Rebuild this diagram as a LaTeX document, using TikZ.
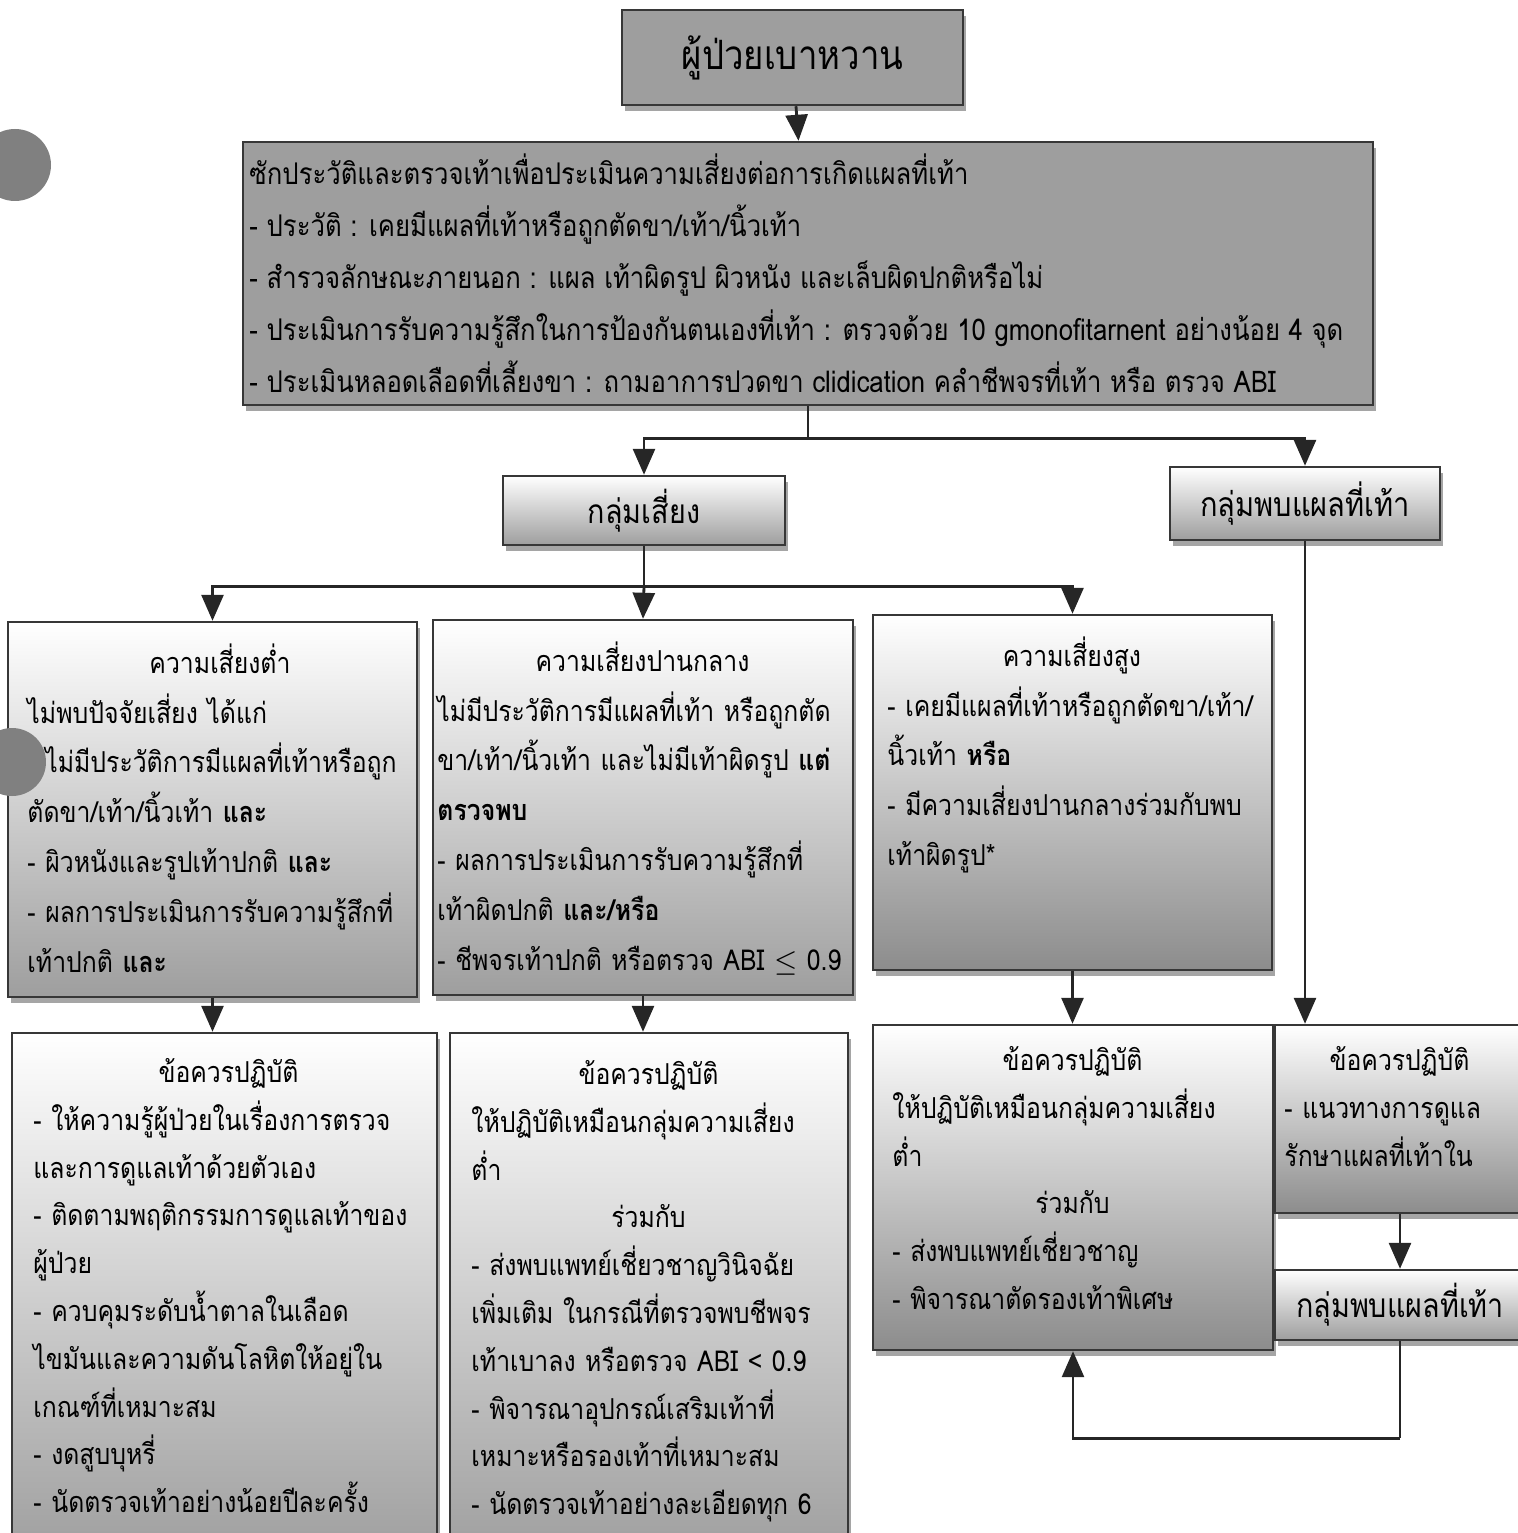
\documentclass[tikz,border=0pt]{standalone}
\usepackage{fontspec}
\usepackage{tikz}
\usetikzlibrary{arrows.meta, positioning, shadows}
\newfontfamily\thaifont[Script=Thai,FakeStretch=0.86]{Loma}
\definecolor{boxgray}{RGB}{158,158,158}
\definecolor{linegray}{RGB}{55,55,55}
\newcommand{\midline}[1]{\hfill#1\hfill\null}
\begin{document}
\begin{tikzpicture}[>={Triangle[length=2.6mm,width=2.2mm]},
          box/.style={draw=linegray,line width=0.7pt,inner sep=0pt,
                      drop shadow={shadow xshift=0.3mm,shadow yshift=-0.6mm,fill=black!70}},
          darkbox/.style={box,fill=boxgray},
          fadebox/.style={box,top color=white,bottom color=black!38},
          txt/.style={anchor=north west,inner sep=0pt,align=left,
                      font=\thaifont\fontsize{8.2}{14.2}\selectfont},
          dotxt/.style={txt,font=\thaifont\fontsize{8.2}{13.6}\selectfont},
          conn/.style={draw=black!85,line width=0.8pt}]
        \useasboundingbox (0,0) rectangle (15.17,-15.33);
        \node[darkbox,minimum width=3.41cm,minimum height=0.95cm,
              font=\thaifont\fontsize{11.5}{14}\selectfont](title) at (7.925,-0.575){ผู้ป่วยเบาหวาน};
        \node[darkbox,minimum width=11.3cm,minimum height=2.63cm](hist) at (8.08,-2.735){};
        \node[txt,font=\thaifont\fontsize{8.5}{14.8}\selectfont](histtxt) at ([xshift=0.07cm,yshift=-0.12cm]hist.north west){%
          ซักประวัติและตรวจเท้าเพื่อประเมินความเสี่ยงต่อการเกิดแผลที่เท้า\\
          -~ประวัติ : เคยมีแผลที่เท้าหรือถูกตัดขา/เท้า/นิ้วเท้า\\
          -~สำรวจลักษณะภายนอก : แผล เท้าผิดรูป ผิวหนัง และเล็บผิดปกติหรือไม่\\
          -~ประเมินการรับความรู้สึกในการป้องกันตนเองที่เท้า : ตรวจด้วย 10 gmonofitarnent อย่างน้อย 4 จุด\\
          -~ประเมินหลอดเลือดที่เลี้ยงขา : ถามอาการปวดขา clidication คลำชีพจรที่เท้า หรือ ตรวจ ABI};
        \node[fadebox,minimum width=2.82cm,minimum height=0.69cm,
              font=\thaifont\fontsize{9.5}{12}\selectfont](risk) at (6.44,-5.105){กลุ่มเสี่ยง};
        \node[fadebox,minimum width=2.7cm,minimum height=0.73cm,
              font=\thaifont\fontsize{9.6}{12}\selectfont](ulcer) at (13.05,-5.035){กลุ่มพบแผลที่เท้า};
        \node[fadebox,minimum width=4.09cm,minimum height=3.75cm](low) at (2.125,-8.095){};
        \node[fadebox,minimum width=4.2cm,minimum height=3.75cm](mid) at (6.43,-8.075){};
        \node[fadebox,minimum width=3.99cm,minimum height=3.55cm,bottom color=black!45](high) at (10.725,-7.925){};
        \node[txt,text width=3.85cm](lowtxt) at ([xshift=0.2cm,yshift=-0.22cm]low.north west){%
          \midline{ความเสี่ยงต่ำ}\\
          ไม่พบปัจจัยเสี่ยง ได้แก่\\
          -~ไม่มีประวัติการมีแผลที่เท้าหรือถูก\\
          ตัดขา/เท้า/นิ้วเท้า \textbf{และ}\\
          -~ผิวหนังและรูปเท้าปกติ \textbf{และ}\\
          -~ผลการประเมินการรับความรู้สึกที่\\
          เท้าปกติ \textbf{และ}};
        \node[txt,text width=4.1cm](midtxt) at ([xshift=0.05cm,yshift=-0.22cm]mid.north west){%
          \midline{ความเสี่ยงปานกลาง}\\
          ไม่มีประวัติการมีแผลที่เท้า หรือถูกตัด\\
          ขา/เท้า/นิ้วเท้า และไม่มีเท้าผิดรูป \textbf{แต่}\\
          \textbf{ตรวจพบ}\\
          -~ผลการประเมินการรับความรู้สึกที่\\
          เท้าผิดปกติ \textbf{และ/หรือ}\\
          -~ชีพจรเท้าปกติ หรือตรวจ ABI $\leq$ 0.9};
        \node[txt,text width=3.69cm](hightxt) at ([xshift=0.15cm,yshift=-0.22cm]high.north west){%
          \midline{ความเสี่ยงสูง}\\
          -~เคยมีแผลที่เท้าหรือถูกตัดขา/เท้า/\\
          นิ้วเท้า \textbf{หรือ}\\
          -~มีความเสี่ยงปานกลางร่วมกับพบ\\
          เท้าผิดรูป*};
        \node[fadebox,minimum width=4.25cm,minimum height=5.27cm](lowdo) at (2.245,-12.965){};
        \node[fadebox,minimum width=3.98cm,minimum height=5.27cm](middo) at (6.49,-12.965){};
        \node[fadebox,minimum width=4cm,minimum height=3.25cm,bottom color=black!45](highdo) at (10.73,-11.875){};
        \node[fadebox,minimum width=2.5cm,minimum height=1.88cm,bottom color=black!45](ulcerdo) at (14,-11.19){};
        \node[fadebox,minimum width=2.5cm,minimum height=0.7cm,
              font=\thaifont\fontsize{9.5}{12}\selectfont](ulcer2) at (14,-13.05){กลุ่มพบแผลที่เท้า};
        \node[dotxt,text width=3.9cm](lowdotxt) at ([xshift=0.22cm,yshift=-0.26cm]lowdo.north west){%
          \midline{ข้อควรปฏิบัติ}\\
          -~ให้ความรู้ผู้ป่วยในเรื่องการตรวจ\\
          และการดูแลเท้าด้วยตัวเอง\\
          -~ติดตามพฤติกรรมการดูแลเท้าของ\\
          ผู้ป่วย\\
          -~ควบคุมระดับน้ำตาลในเลือด\\
          ไขมันและความดันโลหิตให้อยู่ใน\\
          เกณฑ์ที่เหมาะสม\\
          -~งดสูบบุหรี่\\
          -~นัดตรวจเท้าอย่างน้อยปีละครั้ง};
        \node[dotxt,text width=3.54cm](middotxt) at ([xshift=0.22cm,yshift=-0.28cm]middo.north west){%
          \midline{ข้อควรปฏิบัติ}\\
          ให้ปฏิบัติเหมือนกลุ่มความเสี่ยง\\
          ต่ำ\\
          \midline{ร่วมกับ}\\
          -~ส่งพบแพทย์เชี่ยวชาญวินิจฉัย\\
          เพิ่มเติม ในกรณีที่ตรวจพบชีพจร\\
          เท้าเบาลง หรือตรวจ ABI < 0.9\\
          -~พิจารณาอุปกรณ์เสริมเท้าที่\\
          เหมาะหรือรองเท้าที่เหมาะสม\\
          -~นัดตรวจเท้าอย่างละเอียดทุก 6};
        \node[dotxt,text width=3.6cm](highdotxt) at ([xshift=0.2cm,yshift=-0.22cm]highdo.north west){%
          \midline{ข้อควรปฏิบัติ}\\
          ให้ปฏิบัติเหมือนกลุ่มความเสี่ยง\\
          ต่ำ\\
          \midline{ร่วมกับ}\\
          -~ส่งพบแพทย์เชี่ยวชาญ\\
          -~พิจารณาตัดรองเท้าพิเศษ};
        \node[dotxt,text width=2.3cm](ulcerdotxt) at ([xshift=0.1cm,yshift=-0.22cm]ulcerdo.north west){%
          \midline{ข้อควรปฏิบัติ}\\
          -~แนวทางการดูแล\\
          รักษาแผลที่เท้าใน};
        \draw[conn,->](title)--(hist);
        \draw[conn](hist.south)--++(0,-0.32)coordinate(split1);
        \draw[conn,->](split1)-|(risk.north);
        \draw[conn,->](split1)-|(ulcer.north);
        \draw[conn](risk.south)--++(0,-0.4)coordinate(split2);
        \draw[conn,->](split2)-|(low.north);
        \draw[conn,->](split2)--(mid.north);
        \draw[conn,->](split2)-|(high.north);
        \draw[conn,->](low.south)--(low.south|-lowdo.north);
        \draw[conn,->](mid.south)--(mid.south|-middo.north);
        \draw[conn,->](high.south)--(high.south|-highdo.north);
        \draw[conn,->](ulcer.south)--(ulcer.south|-ulcerdo.north);
        \draw[conn,->](ulcerdo)--(ulcer2);
        \draw[conn](ulcer2.south)--++(0,-0.97)coordinate(back);
        \draw[conn,->](back)-|(highdo.south);
        \fill[black!50](0.15,-1.65)circle(0.36);
        \fill[black!50](0.12,-7.62)circle(0.34);
      \end{tikzpicture}
\end{document}
